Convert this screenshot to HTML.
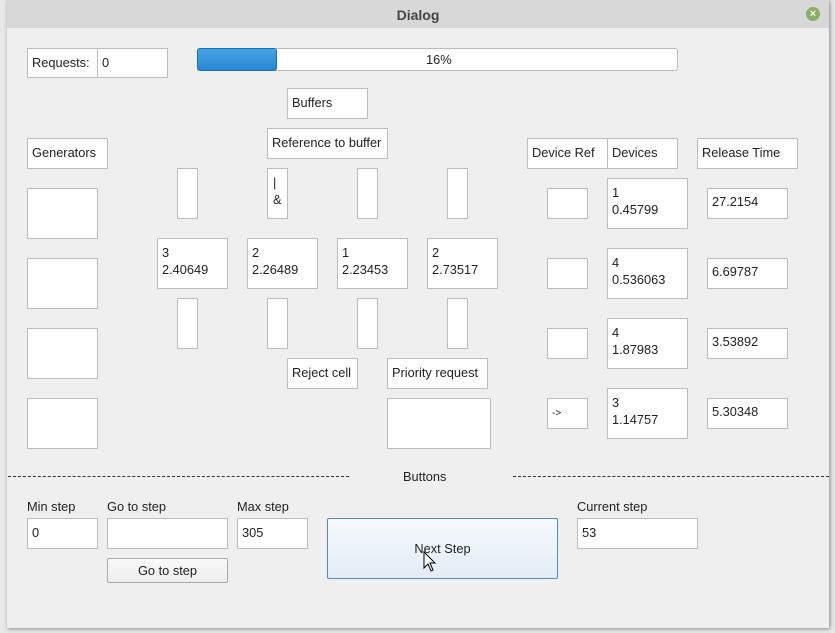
<!DOCTYPE html>
<html><head><style>
body{margin:0;width:835px;height:633px;position:relative;overflow:hidden;background:#e8e8e8;font-family:"Liberation Sans",sans-serif;font-size:12.8px;color:#222}
.dlg{position:absolute;left:7px;top:0;width:822px;height:628px;background:#efefef;box-shadow:1px 1px 4px #888}
.tb{position:absolute;left:7px;top:0;width:822px;height:28px;background:#d8d8d8;text-align:center;font-weight:bold;font-size:14px;line-height:30px;color:#444}
.b{position:absolute;background:#fff;border:1px solid #bdbdbd;box-sizing:border-box;padding:4px 0 0 4px;line-height:17px;white-space:nowrap}
.l{position:absolute;white-space:nowrap}
</style></head><body>
<div class="dlg"></div>
<div class="tb">Dialog</div>
<div style="position:absolute;left:806px;top:7px;width:14px;height:14px;border-radius:50%;background:#8ab068;color:#fff;font-size:11px;line-height:14px;text-align:center;font-weight:bold">×</div>

<div class="b" style="left:27px;top:48px;width:71px;height:30px;padding-top:5px">Requests:</div>
<div class="b" style="left:97px;top:48px;width:71px;height:30px;padding-top:5px">0</div>
<div style="position:absolute;left:197px;top:48px;width:481px;height:23px;background:#fff;border:1px solid #bbb;box-sizing:border-box;border-radius:3px"></div>
<div style="position:absolute;left:197px;top:48px;width:80px;height:23px;background:linear-gradient(#44a4e8,#2a88d0);border:1px solid #1d6fae;box-sizing:border-box;border-radius:3px"></div>
<div class="l" style="left:426px;top:52px">16%</div>

<div class="b" style="left:287px;top:88px;width:81px;height:31px;padding-top:5px">Buffers</div>
<div class="b" style="left:267px;top:128px;width:121px;height:31px;padding-top:5px">Reference to buffer</div>
<div class="b" style="left:27px;top:138px;width:81px;height:31px;padding-top:5px">Generators</div>

<div class="b" style="left:27px;top:188px;width:71px;height:51px"></div>
<div class="b" style="left:27px;top:258px;width:71px;height:51px"></div>
<div class="b" style="left:27px;top:328px;width:71px;height:51px"></div>
<div class="b" style="left:27px;top:398px;width:71px;height:51px"></div>

<div class="b" style="left:177px;top:168px;width:21px;height:51px"></div>
<div class="b" style="left:267px;top:168px;width:21px;height:51px;padding:5px 0 0 5px">|<br>&amp;</div>
<div class="b" style="left:357px;top:168px;width:21px;height:51px"></div>
<div class="b" style="left:447px;top:168px;width:21px;height:51px"></div>

<div class="b" style="left:157px;top:238px;width:71px;height:51px;padding-top:5px">3<br>2.40649</div>
<div class="b" style="left:247px;top:238px;width:71px;height:51px;padding-top:5px">2<br>2.26489</div>
<div class="b" style="left:337px;top:238px;width:71px;height:51px;padding-top:5px">1<br>2.23453</div>
<div class="b" style="left:427px;top:238px;width:71px;height:51px;padding-top:5px">2<br>2.73517</div>

<div class="b" style="left:177px;top:298px;width:21px;height:51px"></div>
<div class="b" style="left:267px;top:298px;width:21px;height:51px"></div>
<div class="b" style="left:357px;top:298px;width:21px;height:51px"></div>
<div class="b" style="left:447px;top:298px;width:21px;height:51px"></div>

<div class="b" style="left:287px;top:358px;width:71px;height:31px;padding-top:5px">Reject cell</div>
<div class="b" style="left:387px;top:358px;width:101px;height:31px;padding-top:5px">Priority request</div>
<div class="b" style="left:387px;top:398px;width:104px;height:51px"></div>

<div class="b" style="left:527px;top:138px;width:81px;height:31px;padding-top:5px">Device Ref</div>
<div class="b" style="left:607px;top:138px;width:71px;height:31px;padding-top:5px">Devices</div>
<div class="b" style="left:697px;top:138px;width:101px;height:31px;padding-top:5px">Release Time</div>

<div class="b" style="left:547px;top:188px;width:41px;height:31px"></div>
<div class="b" style="left:547px;top:258px;width:41px;height:31px"></div>
<div class="b" style="left:547px;top:328px;width:41px;height:31px"></div>
<div class="b" style="left:547px;top:398px;width:41px;height:31px;padding-top:6px;font-size:10px">-&gt;</div>

<div class="b" style="left:607px;top:178px;width:81px;height:51px;padding-top:5px">1<br>0.45799</div>
<div class="b" style="left:607px;top:248px;width:81px;height:51px;padding-top:5px">4<br>0.536063</div>
<div class="b" style="left:607px;top:318px;width:81px;height:51px;padding-top:5px">4<br>1.87983</div>
<div class="b" style="left:607px;top:388px;width:81px;height:51px;padding-top:5px">3<br>1.14757</div>

<div class="b" style="left:707px;top:188px;width:81px;height:31px;padding-top:4px">27.2154</div>
<div class="b" style="left:707px;top:258px;width:81px;height:31px;padding-top:4px">6.69787</div>
<div class="b" style="left:707px;top:328px;width:81px;height:31px;padding-top:4px">3.53892</div>
<div class="b" style="left:707px;top:398px;width:81px;height:31px;padding-top:4px">5.30348</div>

<div style="position:absolute;left:8px;top:476px;width:341px;border-top:1px dashed #333"></div>
<div style="position:absolute;left:513px;top:476px;width:316px;border-top:1px dashed #333"></div>
<div class="l" style="left:403px;top:469px">Buttons</div>

<div class="l" style="left:27px;top:499px">Min step</div>
<div class="l" style="left:107px;top:499px">Go to step</div>
<div class="l" style="left:237px;top:499px">Max step</div>
<div class="l" style="left:577px;top:499px">Current step</div>
<div class="b" style="left:27px;top:518px;width:71px;height:31px;padding-top:5px">0</div>
<div class="b" style="left:107px;top:518px;width:121px;height:31px"></div>
<div class="b" style="left:237px;top:518px;width:71px;height:31px;padding-top:5px">305</div>
<div class="b" style="left:577px;top:518px;width:121px;height:31px;padding-top:5px">53</div>
<div style="position:absolute;left:107px;top:558px;width:121px;height:25px;box-sizing:border-box;border:1px solid #aaa;border-radius:2px;background:linear-gradient(#fafafa,#ececec);text-align:center;line-height:23px">Go to step</div>
<div style="position:absolute;left:327px;top:518px;width:231px;height:61px;box-sizing:border-box;border:1px solid #5a8ab8;border-radius:2px;background:linear-gradient(#f6f9fc,#e2ecf5);text-align:center;line-height:59px">Next Step</div>
<svg style="position:absolute;left:423px;top:551px" width="14" height="22"><path d="M1 1 L1 17 L5 13 L8 20 L10 19 L7 12 L12 12 Z" fill="#fff" stroke="#000" stroke-width="1"/></svg>
</body></html>
